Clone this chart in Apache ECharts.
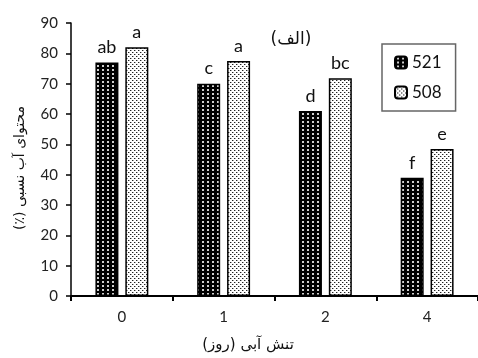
<!DOCTYPE html>
<html>
<head>
<meta charset="utf-8">
<script src="https://cdn.jsdelivr.net/npm/echarts@6/dist/echarts.min.js"></script>
<style>
html,body{margin:0;padding:0;background:#fff;}
#c{width:478px;height:358px;}
</style>
</head>
<body>
<div id="c"></div>
<script>
var categories = ['0', '1', '2', '4'];
var seriesNames = ['521', '508'];
var values521 = [77, 70, 61, 39];
var values508 = [82, 77.5, 71.8, 48.5];
var letters521 = ['ab', 'c', 'd', 'f'];
var letters508 = ['a', 'a', 'bc', 'e'];
var yTicks = [0, 10, 20, 30, 40, 50, 60, 70, 80, 90];
var yTitle = '(٪) محتوای آب نسبی';
var xTitle = 'تنش آبی (روز)';
var panelTitle = '(الف)';

function makeDark() {
  var c = document.createElement('canvas');
  c.width = 5; c.height = 4;
  var g = c.getContext('2d');
  g.fillStyle = '#000'; g.fillRect(0, 0, 5, 4);
  g.fillStyle = '#d0d0d0'; g.fillRect(2, 1, 2, 2);
  return c;
}
function makeLight() {
  var c = document.createElement('canvas');
  c.width = 4; c.height = 4;
  var g = c.getContext('2d');
  g.fillStyle = '#fff'; g.fillRect(0, 0, 4, 4);
  g.fillStyle = '#222'; g.fillRect(0, 0, 1, 1); g.fillRect(2, 2, 1, 1);
  g.fillStyle = '#aaa'; g.fillRect(1, 0, 1, 1); g.fillRect(3, 2, 1, 1);
  return c;
}
var darkPattern = { image: makeDark(), repeat: 'repeat' };
var lightPattern = { image: makeLight(), repeat: 'repeat' };

var font = 'Lato, "Open Sans", sans-serif';
var chart = echarts.init(document.getElementById('c'), null, { renderer: 'canvas' });

function labelFn(letters) {
  return function (p) { return letters[p.dataIndex]; };
}

chart.setOption({
  animation: false,
  backgroundColor: '#fff',
  grid: { left: 71, width: 412, top: 23, bottom: 62, containLabel: false },
  legend: {
    orient: 'vertical',
    left: 382, top: 44,
    padding: [10, 14, 10, 12],
    itemGap: 13,
    itemWidth: 12, itemHeight: 12,
    borderColor: '#666', borderWidth: 1.5,
    textStyle: { fontFamily: font, fontSize: 17, color: '#111' },
    data: seriesNames
  },
  graphic: [{
    type: 'text',
    x: 20, y: 168,
    rotation: Math.PI / 2,
    style: {
      text: yTitle,
      font: '14px "DejaVu Sans"',
      fill: '#111',
      textAlign: 'center',
      textVerticalAlign: 'middle'
    }
  }, {
    type: 'text',
    x: 248, y: 345,
    style: {
      text: xTitle,
      font: '15px "DejaVu Sans"',
      fill: '#111',
      textAlign: 'center',
      textVerticalAlign: 'middle'
    }
  }, {
    type: 'text',
    x: 291, y: 40,
    style: {
      text: panelTitle,
      font: '17px "DejaVu Sans"',
      fill: '#111',
      textAlign: 'center',
      textVerticalAlign: 'middle'
    }
  }],
  xAxis: {
    type: 'category',
    data: categories,
    axisLine: { lineStyle: { color: '#000', width: 2 } },
    axisTick: { show: true, length: 5, inside: false, lineStyle: { color: '#000', width: 2 } },
    axisLabel: { fontFamily: font, fontSize: 15, color: '#222', margin: 14 },
    splitLine: { show: false }
  },
  yAxis: {
    type: 'value',
    min: 0, max: 90, interval: 10,
    axisLine: { show: true, lineStyle: { color: '#000', width: 1.5 } },
    axisTick: { show: true, length: 5, lineStyle: { color: '#000', width: 1.5 } },
    axisLabel: {
      fontFamily: font, fontSize: 15, color: '#222', margin: 13,
      formatter: function (v) { return yTicks.indexOf(v) >= 0 ? String(v) : ''; }
    },
    splitLine: { show: false }
  },
  series: [{
    name: seriesNames[0],
    type: 'bar',
    data: values521,
    barWidth: 23,
    barGap: '30%',
    itemStyle: { color: darkPattern, borderColor: '#000', borderWidth: 1.5 },
    label: {
      show: true, position: 'top', distance: 6,
      formatter: labelFn(letters521),
      fontFamily: font, fontSize: 18, color: '#111'
    }
  }, {
    name: seriesNames[1],
    type: 'bar',
    data: values508,
    barWidth: 23,
    barGap: '30%',
    itemStyle: { color: lightPattern, borderColor: '#000', borderWidth: 1.5 },
    label: {
      show: true, position: 'top', distance: 6,
      formatter: labelFn(letters508),
      fontFamily: font, fontSize: 18, color: '#111'
    }
  }]
});
</script>
</body>
</html>
